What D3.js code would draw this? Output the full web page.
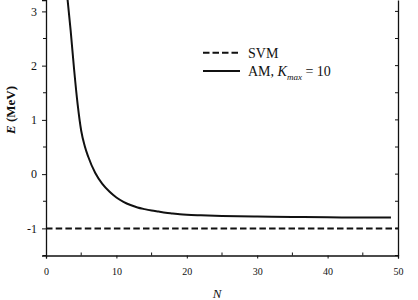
<!DOCTYPE html>
<html>
<head>
<meta charset="utf-8">
<script src="https://cdn.jsdelivr.net/npm/d3@7"></script>
<style>
  body { margin: 0; background: #fff; }
  svg text { font-family: "Liberation Serif", "Times New Roman", serif; fill: #111; }
</style>
</head>
<body>
<div id="chart"></div>
<script>
// AM energies vs N
var amN = [3, 3.5, 4, 4.5, 5, 5.5, 6, 7, 8, 9, 10, 11, 12, 13, 14, 15, 16, 17, 18, 19, 20, 22, 25, 30, 35, 40, 45, 49];
var amE = [3.30, 2.65, 1.92, 1.28, 0.80, 0.52, 0.32, 0.02, -0.18, -0.32, -0.43, -0.51, -0.57, -0.615, -0.645, -0.67, -0.69, -0.71, -0.725, -0.74, -0.75, -0.76, -0.77, -0.78, -0.79, -0.795, -0.80, -0.80];
// SVM reference energy
var svmE = -1;
var xTicks = [0, 10, 20, 30, 40, 50];
var xMinor = [5, 15, 25, 35, 45];
var yTicks = [-1, 0, 1, 2, 3];
var yMinor = [-1.5, -0.5, 0.5, 1.5, 2.5];

var width = 418, height = 300;
var margin = {top: 0, left: 46, right: 20, bottom: 44.5};
var serif = "'Liberation Serif', 'Times New Roman', serif";

var svg = d3.select("#chart").append("svg")
    .attr("width", width)
    .attr("height", height);

var x = d3.scaleLinear().domain([0, 50]).range([margin.left, width - margin.right]);
var y = d3.scaleLinear().domain([-1.5, 3.21]).range([height - margin.bottom, margin.top]);

svg.append("clipPath").attr("id", "plotClip")
    .append("rect")
    .attr("x", x(0)).attr("y", 0)
    .attr("width", x(50) - x(0)).attr("height", y(-1.5));

var plainNum = function(d){ return String(d); };

// left axis, ticks outward
var yAxisL = svg.append("g").attr("transform", "translate(" + x(0) + ",0)")
    .call(d3.axisLeft(y).tickValues(yTicks).tickSize(4).tickPadding(5).tickFormat(plainNum));
yAxisL.append("g").selectAll("line").data(yMinor).enter().append("line")
    .attr("x1", -3).attr("x2", 0)
    .attr("y1", function(d){ return y(d); }).attr("y2", function(d){ return y(d); })
    .attr("stroke", "#111");

// right axis, ticks inward
var yAxisR = svg.append("g").attr("transform", "translate(" + x(50) + ",0)")
    .call(d3.axisLeft(y).tickValues(yTicks.concat(yMinor)).tickSize(0).tickFormat(""));
yAxisR.append("g").selectAll("line").data(yTicks.concat(yMinor)).enter().append("line")
    .attr("x1", -3).attr("x2", 0)
    .attr("y1", function(d){ return y(d); }).attr("y2", function(d){ return y(d); })
    .attr("stroke", "#111");

// bottom axis, major ticks down, minor up
var xAxis = svg.append("g").attr("transform", "translate(0," + y(-1.5) + ")")
    .call(d3.axisBottom(x).tickValues(xTicks).tickSize(3).tickPadding(9).tickFormat(plainNum));
xAxis.append("g").selectAll("line").data(xMinor).enter().append("line")
    .attr("x1", function(d){ return x(d); }).attr("x2", function(d){ return x(d); })
    .attr("y1", -3).attr("y2", 0)
    .attr("stroke", "#111");

[yAxisL, yAxisR, xAxis].forEach(function(g){
    g.attr("font-family", serif);
    g.select(".domain").attr("stroke", "#111").attr("stroke-width", 1.3);
    g.selectAll(".tick line").attr("stroke", "#111");
});
yAxisL.selectAll(".tick text").style("font-size", "12px").attr("fill", "#111");
xAxis.selectAll(".tick text").style("font-size", "10px").attr("fill", "#111");

// SVM dashed line
svg.append("line")
    .attr("x1", x(0)).attr("x2", x(50))
    .attr("y1", y(svmE)).attr("y2", y(svmE))
    .attr("stroke", "#111").attr("stroke-width", 2)
    .attr("stroke-dasharray", "6.5,3.2");

// AM curve
var line = d3.line()
    .x(function(d, i){ return x(amN[i]); })
    .y(function(d){ return y(d); })
    .curve(d3.curveMonotoneX);

svg.append("path")
    .datum(amE)
    .attr("clip-path", "url(#plotClip)")
    .attr("fill", "none")
    .attr("stroke", "#111")
    .attr("stroke-width", 2)
    .attr("d", line);

// legend
var legend = svg.append("g").attr("transform", "translate(203,0)");
legend.append("line").attr("x1", 0).attr("x2", 37).attr("y1", 52.7).attr("y2", 52.7)
    .attr("stroke", "#111").attr("stroke-width", 2).attr("stroke-dasharray", "6.5,3");
legend.append("text").attr("x", 45).attr("y", 57.5).style("font-size", "14px").text("SVM");
legend.append("line").attr("x1", 0).attr("x2", 37).attr("y1", 71).attr("y2", 71)
    .attr("stroke", "#111").attr("stroke-width", 2);
var amLabel = legend.append("text").attr("x", 45).attr("y", 76).style("font-size", "14px");
amLabel.append("tspan").text("AM, ");
amLabel.append("tspan").style("font-style", "italic").text("K");
amLabel.append("tspan").style("font-style", "italic").style("font-size", "9px").attr("dy", 4).text("max");
amLabel.append("tspan").attr("dy", -4).text(" = 10");

// axis titles
var yTitle = svg.append("text")
    .attr("transform", "translate(15,110) rotate(-90)")
    .attr("text-anchor", "middle")
    .style("font-size", "13px")
    .style("font-weight", "bold");
yTitle.append("tspan").style("font-style", "italic").text("E");
yTitle.append("tspan").text(" (MeV)");

svg.append("text")
    .attr("x", 217).attr("y", 298)
    .attr("text-anchor", "middle")
    .style("font-size", "13px").style("font-style", "italic")
    .text("N");
</script>
</body>
</html>
